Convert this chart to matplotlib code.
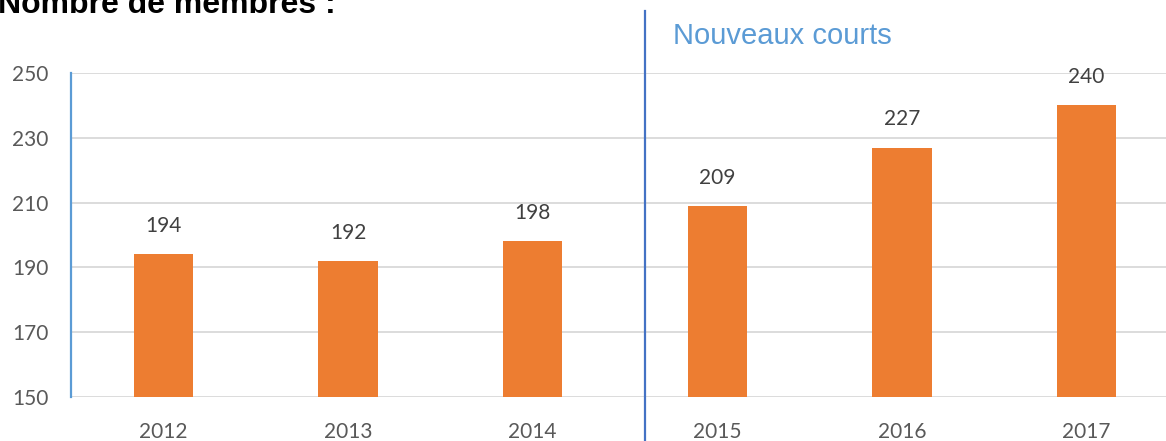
import matplotlib
matplotlib.use("Agg")
import matplotlib.pyplot as plt

# données
annees = ["2012", "2013", "2014", "2015", "2016", "2017"]
membres = [194, 192, 198, 209, 227, 240]
y_ticks = [150, 170, 190, 210, 230, 250]

fig = plt.figure(figsize=(11.66, 4.41), dpi=100)
ax = fig.add_axes([71 / 1166, 44 / 441, 1108 / 1166, 324 / 441])

x = list(range(len(annees)))
ax.bar(x, membres, width=0.32, color="#ED7D31", zorder=3)

for xi, v in zip(x, membres):
    ax.annotate(str(v), (xi, v), xytext=(0, 13), textcoords="offset points",
                ha="center", va="bottom", fontsize=15, family="Lato", color="#404040")

ax.set_xlim(-0.5, len(annees) - 0.5)
ax.set_ylim(150, 250)
ax.set_yticks(y_ticks)
ax.set_xticks(x)
ax.set_xticklabels(annees)
ax.grid(axis="y", color="#D9D9D9", linewidth=1.3, zorder=0)
ax.tick_params(axis="y", length=0, pad=16, labelsize=15, labelcolor="#595959")
ax.tick_params(axis="x", length=0, pad=18, labelsize=15, labelcolor="#595959")
for lab in ax.get_xticklabels() + ax.get_yticklabels():
    lab.set_family("Lato")

for s in ["top", "right", "bottom"]:
    ax.spines[s].set_visible(False)
ax.spines["left"].set_color("#5B9BD5")
ax.spines["left"].set_linewidth(1.6)

# séparation "nouveaux courts"
ax.plot([2.608, 2.608], [136, 269], color="#4472C4", linewidth=1.6, clip_on=False, zorder=4)
fig.text(673 / 1166, 1 - 44 / 441, "Nouveaux courts", fontsize=21, family="Liberation Sans",
         color="#5B9BD5", ha="left", va="baseline")

fig.text(-2 / 1166, 1 - 13 / 441, "Nombre de membres :", fontsize=23, fontweight="bold",
         family="Liberation Sans", color="black", ha="left", va="baseline")

fig.savefig("out.png", dpi=100)
